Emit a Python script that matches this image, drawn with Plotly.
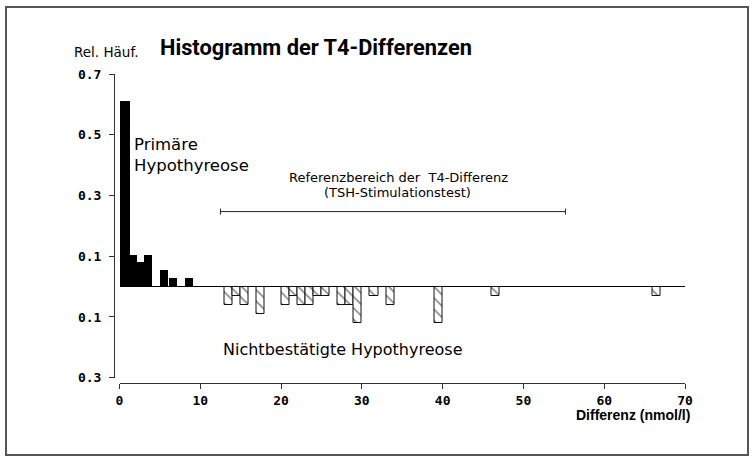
import plotly.graph_objects as go

# ---------------- data ----------------
# Primary hypothyroidism (black bars): bin edges and relative frequency
primary_left = [0.0, 1.2, 2.1, 3.0, 5.0, 6.1, 8.0]
primary_right = [1.2, 2.1, 3.0, 4.0, 6.0, 7.1, 9.0]
primary_freq = [0.61, 0.105, 0.08, 0.105, 0.055, 0.028, 0.028]

# Unconfirmed hypothyroidism (hatched bars, drawn downward)
unconf_left = [13, 14, 15, 17, 20, 21, 22, 23, 24, 25, 27, 28, 29, 31, 33, 39, 46, 66]
unconf_freq = [0.06, 0.03, 0.06, 0.09, 0.06, 0.03, 0.06, 0.06, 0.03, 0.03,
               0.06, 0.06, 0.12, 0.03, 0.06, 0.12, 0.03, 0.03]
unconf_binwidth = 1.0

# Reference range of the T4 difference (TSH stimulation test)
ref_range = [12.5, 55.2]
ref_level = 0.247

# Axis ticks
y_tickvals = [0.7, 0.5, 0.3, 0.1, -0.1, -0.3]
y_ticktext = ["0.7", "0.5", "0.3", "0.1", "0.1", "0.3"]
x_tickvals = [0, 10, 20, 30, 40, 50, 60, 70]
x_ticktext = ["0", "10", "20", "30", "40", "50", "60", "70"]

# ---------------- figure ----------------
p_centers = [(a + b) / 2 for a, b in zip(primary_left, primary_right)]
p_widths = [b - a for a, b in zip(primary_left, primary_right)]
u_centers = [a + unconf_binwidth / 2 for a in unconf_left]
u_neg = [-v for v in unconf_freq]

fig = go.Figure()
fig.add_trace(go.Bar(
    x=p_centers, y=primary_freq, width=p_widths,
    marker=dict(color="black", line=dict(color="black", width=0)),
    showlegend=False, hoverinfo="skip"))
fig.add_trace(go.Bar(
    x=u_centers, y=u_neg, width=[unconf_binwidth] * len(u_centers),
    marker=dict(color="white", line=dict(color="#111111", width=1),
                pattern=dict(shape="\\", fgcolor="#111111", bgcolor="white",
                             size=8, solidity=0.2)),
    showlegend=False, hoverinfo="skip"))

ref_mid = (ref_range[0] + ref_range[1]) / 2
ref_half = (ref_range[1] - ref_range[0]) / 2
fig.add_trace(go.Scatter(
    x=[ref_mid], y=[ref_level], mode="markers",
    marker=dict(size=1, color="rgba(0,0,0,0)"),
    error_x=dict(type="data", array=[ref_half], symmetric=True,
                 width=3, thickness=1, color="#222222"),
    showlegend=False, hoverinfo="skip"))

L, R, T, B = 114, 70, 74, 79
W, H = 755, 462
pw = W - L - R
ph = H - T - B

def px_x(px):
    return (px - L) / pw

def px_y(py):
    return (H - B - py) / ph

tickfont = dict(family="DejaVu Sans Mono", size=13, color="black", weight="bold")

fig.update_layout(
    width=W, height=H,
    margin=dict(l=L, r=R, t=T, b=B, autoexpand=False),
    paper_bgcolor="white", plot_bgcolor="white",
    barmode="overlay", bargap=0,
    xaxis=dict(
        domain=[px_x(119.5), 1], range=[0, 70],
        anchor="free", position=0,
        showline=True, linecolor="#333333", linewidth=1,
        ticks="outside", ticklen=5, tickwidth=1, tickcolor="#333333",
        tickvals=x_tickvals, ticktext=x_ticktext, tickfont=tickfont,
        ticklabelstandoff=0,
        showgrid=False, zeroline=False),
    yaxis=dict(
        domain=[px_y(377.7), 1], range=[-0.3, 0.7],
        anchor="free", position=0,
        showline=True, linecolor="#333333", linewidth=1,
        ticks="outside", ticklen=5, tickwidth=1, tickcolor="#333333",
        tickvals=y_tickvals, ticktext=y_ticktext, tickfont=tickfont,
        ticklabelstandoff=5,
        showgrid=False, zeroline=True, zerolinecolor="black", zerolinewidth=1),
    font=dict(family="DejaVu Sans", color="black"),
)

ann = []
ann.append(dict(text="<b>Histogramm der T4-Differenzen</b>", x=px_x(158), y=px_y(48),
                xref="paper", yref="paper", xanchor="left", yanchor="middle",
                showarrow=False, font=dict(family="Roboto", size=21.8, color="black")))
ann.append(dict(text="Rel. Häuf.", x=px_x(72), y=px_y(52), xref="paper", yref="paper",
                xanchor="left", yanchor="middle", showarrow=False,
                font=dict(family="DejaVu Sans", size=13.5, color="black")))
ann.append(dict(text="Primäre<br>Hypothyreose", x=px_x(132), y=px_y(155),
                xref="paper", yref="paper", xanchor="left", yanchor="middle", align="left",
                showarrow=False, font=dict(family="DejaVu Sans", size=16.5, color="black")))
ann.append(dict(text="Referenzbereich der  T4-Differenz", x=px_x(398), y=px_y(177),
                xref="paper", yref="paper", xanchor="center", yanchor="middle",
                showarrow=False, font=dict(family="DejaVu Sans", size=13, color="black")))
ann.append(dict(text="(TSH-Stimulationstest)", x=px_x(397), y=px_y(192),
                xref="paper", yref="paper", xanchor="center", yanchor="middle",
                showarrow=False, font=dict(family="DejaVu Sans", size=13, color="black")))
ann.append(dict(text="Nichtbestätigte Hypothyreose", x=px_x(221), y=px_y(349),
                xref="paper", yref="paper", xanchor="left", yanchor="middle",
                showarrow=False, font=dict(family="DejaVu Sans", size=16, color="black")))
ann.append(dict(text="<b>Differenz (nmol/l)</b>", x=px_x(692), y=px_y(415),
                xref="paper", yref="paper", xanchor="right", yanchor="middle",
                showarrow=False, font=dict(family="Liberation Sans", size=14, color="black")))
fig.update_layout(annotations=ann)

fig.add_shape(type="rect", xref="paper", yref="paper",
              x0=px_x(6), x1=px_x(748), y0=px_y(455), y1=px_y(7),
              line=dict(color="#555555", width=2), fillcolor="rgba(0,0,0,0)", layer="below")

fig.write_html("out.html", config={"displayModeBar": False},
               post_script="document.body.style.margin='0px';document.body.style.overflow='hidden';")
